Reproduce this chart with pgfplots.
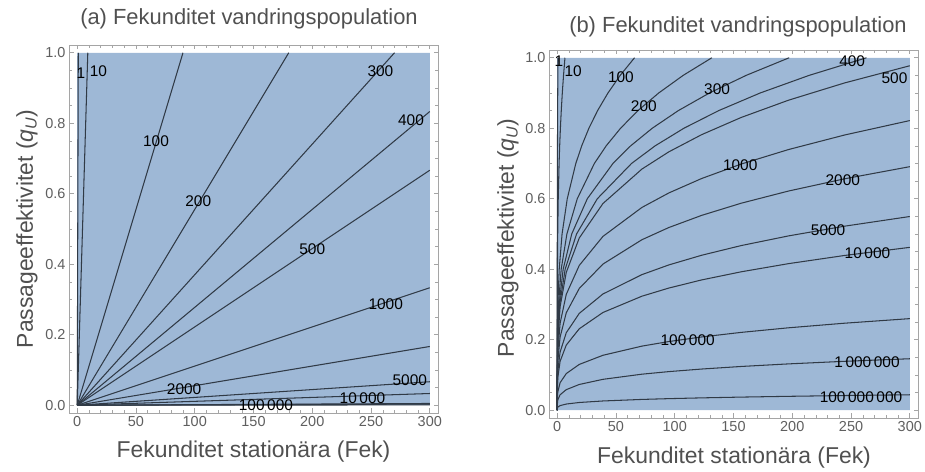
\documentclass[border=0pt]{standalone}
\usepackage{fontspec}
\setmainfont{Liberation Sans}
\usepackage{pgfplots}
\usepackage{pgfplotstable}
\pgfplotsset{compat=1.18}

\definecolor{bluefill}{RGB}{158,184,214}
\definecolor{cline}{RGB}{48,58,70}
\definecolor{labgray}{RGB}{80,80,80}
\definecolor{tickgray}{RGB}{95,95,95}
\definecolor{framegray}{RGB}{165,165,165}

% panel (b): curves that reach the top edge (q, x for each contour value)
\pgfplotstableread{
q    x1     x10    x100   x200   x300   x400
0    0      0      0      0      0      0
0.1  0.0001 0.0007 0.0066 0.0132 0.0197 0.0263
0.2  0.0011 0.0105 0.1053 0.2105 0.3158 0.4211
0.3  0.0053 0.0533 0.5329 1.0658 1.5987 2.1316
0.4  0.0168 0.1684 1.6842 3.3684 5.0527 6.7369
0.5  0.0411 0.4113 4.1119 8.2238 12.336 16.448
0.6  0.0853 0.8528 8.5264 17.053 25.579 34.106
0.7  0.1580 1.5799 15.796 31.592 47.389 63.185
0.75 0.2082 2.0819 20.816 41.632 62.448 83.264
0.8  0.2695 2.6952 26.948 53.895 80.843 107.79
0.85 0.3435 3.4348 34.342 68.685 103.03 137.37
0.9  0.4317 4.3171 43.165 86.330 129.49 172.66
0.95 0.5359 5.3594 53.585 107.17 160.76 214.34
1.0  0.658  6.58   65.79  131.58 197.37 263.16
}\topcurves

% panel (b): curves that reach the right edge (x, q for each contour value)
\pgfplotstableread{
x      c500  c1000 c2000 c5000 c10000 c100000 c1000000 c100000000
0      0     0     0     0     0      0       0        0
0.03   .0977 .0822 .0691 .0550 .0462  .0260   .0146    .0044
0.48   .1955 .1644 .1382 .1099 .0924  .0520   .0292    .0088
2.43   .2932 .2465 .2073 .1649 .1386  .0780   .0438    .0132
7.68   .3909 .3287 .2764 .2198 .1848  .1040   .0584    .0176
18.75  .4887 .4109 .3455 .2748 .2311  .1300   .0731    .0220
38.88  .5864 .4931 .4146 .3298 .2773  .1559   .0877    .0263
72.03  .6841 .5753 .4837 .3847 .3235  .1819   .1023    .0307
94.92  .7330 .6164 .5183 .4122 .3466  .1949   .1096    .0329
122.88 .7818 .6574 .5528 .4397 .3697  .2079   .1169    .0351
156.60 .8307 .6985 .5874 .4672 .3928  .2209   .1242    .0373
196.83 .8796 .7396 .6219 .4946 .4159  .2339   .1315    .0395
244.35 .9284 .7807 .6565 .5221 .4390  .2469   .1388    .0417
300    .9773 .8218 .6910 .5496 .4621  .2599   .1461    .0439
}\sidecurves

\pgfplotsset{
  mmaframe/.style={
    scale only axis, width=369bp, height=368bp,
    xmin=-7, xmax=307, ymin=-0.022, ymax=1.022,
    xtick={0,50,...,300}, ytick={0,0.2,0.4,0.6,0.8,1.0},
    minor x tick num=4, minor y tick num=3,
    tick align=inside,
    axis line style={framegray, line width=0.7bp},
    major tick style={framegray, line width=0.7bp},
    minor tick style={framegray, line width=0.5bp},
    major tick length=4.5bp, minor tick length=2.6bp,
    tick label style={font=\fontsize{14.5}{16}\selectfont, text=tickgray},
    /pgf/number format/assume math mode=true,
    yticklabel style={/pgf/number format/.cd, fixed, fixed zerofill, precision=1},
    xticklabel style={/pgf/number format/.cd, fixed, precision=0},
  },
  cl/.style={cline, line width=1.05bp, solid, mark=none},
}
\tikzset{clab/.style={font=\fontsize{15.5}{17}\selectfont, text=black, inner sep=0pt}}

\begin{document}
\begin{tikzpicture}
\useasboundingbox (0bp,0bp) rectangle (925bp,472bp);

% ---------------- panel (a) ----------------
\begin{axis}[mmaframe, at={(69bp,59bp)}, anchor=south west]
\addplot[draw=none, fill=bluefill] coordinates {(0,0) (300,0) (300,1) (0,1) (0,0)};
\addplot[cl] coordinates {(0,0) (0.9,1)};
\addplot[cl] coordinates {(0,0) (9,1)};
\addplot[cl] coordinates {(0,0) (90,1)};
\addplot[cl] coordinates {(0,0) (180,1)};
\addplot[cl] coordinates {(0,0) (270,1)};
\addplot[cl] coordinates {(0,0) (300,0.8333)};
\addplot[cl] coordinates {(0,0) (300,0.6667)};
\addplot[cl] coordinates {(0,0) (300,0.3333)};
\addplot[cl] coordinates {(0,0) (300,0.1667)};
\addplot[cl] coordinates {(0,0) (300,0.0667)};
\addplot[cl] coordinates {(0,0) (300,0.0333)};
\addplot[cl] coordinates {(0,0) (300,0.0050)};
\addplot[cl] coordinates {(0,0) (300,0.0033)};
\addplot[cl] coordinates {(0,0) (300,0.0010)};
\node[clab] at (axis cs:3.1,0.942) {1};
\node[clab] at (axis cs:18.1,0.947) {10};
\node[clab] at (axis cs:67,0.748) {100};
\node[clab] at (axis cs:103,0.578) {200};
\node[clab] at (axis cs:258,0.947) {300};
\node[clab] at (axis cs:284,0.809) {400};
\node[clab] at (axis cs:200,0.442) {500};
\node[clab] at (axis cs:262.5,0.286) {1000};
\node[clab] at (axis cs:91,0.045) {2000};
\node[clab] at (axis cs:283,0.071) {5000};
\node[clab] at (axis cs:242.7,0.019) {10\,000};
\node[clab] at (axis cs:160.6,0.0) {100\,000};
\end{axis}

% ---------------- panel (b) ----------------
\begin{axis}[mmaframe, at={(549bp,54bp)}, anchor=south west]
\addplot[draw=none, fill=bluefill] coordinates {(0,0) (300,0) (300,1) (0,1) (0,0)};
\addplot[cl] table[x=x1, y=q] {\topcurves};
\addplot[cl] table[x=x10, y=q] {\topcurves};
\addplot[cl] table[x=x100, y=q] {\topcurves};
\addplot[cl] table[x=x200, y=q] {\topcurves};
\addplot[cl] table[x=x300, y=q] {\topcurves};
\addplot[cl] table[x=x400, y=q] {\topcurves};
\addplot[cl] table[x=x, y=c500] {\sidecurves};
\addplot[cl] table[x=x, y=c1000] {\sidecurves};
\addplot[cl] table[x=x, y=c2000] {\sidecurves};
\addplot[cl] table[x=x, y=c5000] {\sidecurves};
\addplot[cl] table[x=x, y=c10000] {\sidecurves};
\addplot[cl] table[x=x, y=c100000] {\sidecurves};
\addplot[cl] table[x=x, y=c1000000] {\sidecurves};
\addplot[cl] table[x=x, y=c100000000] {\sidecurves};
\node[clab] at (axis cs:1.5,0.99) {1};
\node[clab] at (axis cs:13.6,0.963) {10};
\node[clab] at (axis cs:54.2,0.946) {100};
\node[clab] at (axis cs:73.7,0.864) {200};
\node[clab] at (axis cs:136,0.912) {300};
\node[clab] at (axis cs:251,0.99) {400};
\node[clab] at (axis cs:287,0.943) {500};
\node[clab] at (axis cs:155.7,0.696) {1000};
\node[clab] at (axis cs:243,0.653) {2000};
\node[clab] at (axis cs:230.5,0.511) {5000};
\node[clab] at (axis cs:264,0.446) {10\,000};
\node[clab] at (axis cs:111,0.199) {100\,000};
\node[clab] at (axis cs:263.6,0.136) {1\,000\,000};
\node[clab] at (axis cs:258.5,0.037) {100\,000\,000};
\end{axis}

% titles and axis labels
\node[font=\fontsize{22}{26}\selectfont, text=labgray] at (249bp,453bp) {(a) Fekunditet vandringspopulation};
\node[font=\fontsize{22}{26}\selectfont, text=labgray] at (738bp,445bp) {(b) Fekunditet vandringspopulation};
\node[font=\fontsize{23}{27}\selectfont, text=labgray] at (253.5bp,20bp) {Fekunditet stationära (Fek)};
\node[font=\fontsize{23}{27}\selectfont, text=labgray] at (734bp,14bp) {Fekunditet stationära (Fek)};
\node[font=\fontsize{23}{27}\selectfont, text=labgray, rotate=90] at (27bp,243bp) {Passageeffektivitet ({\itshape q}\textsubscript{\itshape U})};
\node[font=\fontsize{23}{27}\selectfont, text=labgray, rotate=90] at (508bp,234bp) {Passageeffektivitet ({\itshape q}\textsubscript{\itshape U})};
\end{tikzpicture}
\end{document}
